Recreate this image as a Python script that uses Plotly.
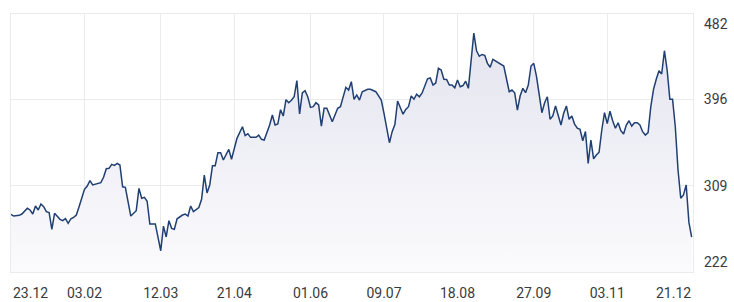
import plotly.graph_objects as go

# trading-day index since 23.12 and closing value
days = [0, 1, 3, 4, 6, 7, 8, 9, 10, 11, 12, 13, 14, 15, 16, 17, 18, 19, 20, 21, 22, 23, 24, 25, 26, 27, 28, 29, 30, 31,
        33, 34, 35, 36, 37, 38, 39, 40, 41, 42, 44, 46, 47, 48, 49, 50, 51, 53, 55, 56, 57, 58, 59, 60, 61, 63, 64, 65, 66, 67,
        69, 70, 71, 72, 73, 74, 75, 76, 77, 78, 80, 81, 83, 85, 86, 87, 88, 90, 91, 92, 93, 95, 96, 97, 98, 99, 100, 101, 102, 103,
        104, 105, 106, 107, 108, 109, 110, 111, 112, 113, 114, 115, 116, 118, 120, 121, 123, 124, 125, 126, 127, 128, 129, 131, 132, 134, 136, 137, 138, 139,
        140, 141, 142, 144, 145, 146, 147, 148, 149, 150, 151, 153, 154, 155, 156, 157, 158, 159, 160, 161, 162, 163, 164, 165, 166, 167, 168, 170, 171, 172,
        173, 174, 175, 176, 177, 179, 181, 183, 184, 185, 186, 187, 188, 189, 190, 191, 192, 193, 195, 196, 197, 198, 199, 200, 201, 202, 203, 204, 205, 206,
        207, 208, 209, 210, 211, 212, 213, 214, 215, 216, 217, 218, 219, 220, 221, 222, 223, 224, 225, 226, 227, 228, 229, 230, 231, 232, 233, 234, 235, 236,
        237, 238, 239, 240, 241, 242, 243, 244, 245, 246, 247, 248, 249, 250]
values = [280.1, 278.4, 279.1, 280.4, 286.2, 284.5, 280.4, 288.5, 284.5, 290.5, 287.8, 282.8, 281.8, 265.0, 281.1, 278.4, 275.1, 273.7, 275.7, 271.1, 275.7, 277.1, 279.4, 287.8, 296.3, 305.3, 308.6, 314.0, 309.7, 310.7,
          312.0, 317.4, 326.1, 326.5, 330.5, 329.5, 331.5, 329.8, 307.9, 307.3, 278.4, 283.8, 306.3, 296.3, 297.3, 293.3, 270.4, 270.4, 243.4, 268.3, 257.3, 273.7, 266.0, 265.0, 275.6, 279.4, 280.4, 278.4, 288.5, 282.8,
          286.9, 295.3, 319.7, 301.7, 309.7, 329.1, 329.1, 342.2, 342.2, 334.9, 345.6, 335.6, 356.7, 368.4, 359.5, 361.4, 357.7, 357.7, 360.0, 355.7, 355.0, 370.1, 380.2, 370.1, 371.1, 385.5, 379.2, 395.6, 392.6, 395.0,
          398.6, 414.8, 381.2, 402.4, 404.7, 398.6, 387.9, 388.6, 392.6, 390.3, 369.1, 387.0, 387.0, 373.5, 387.0, 388.6, 408.1, 405.4, 413.8, 396.0, 400.4, 395.3, 403.7, 406.1, 406.1, 403.7, 395.3, 381.9, 368.4, 352.3,
          363.4, 370.5, 394.3, 381.0, 385.8, 388.6, 399.5, 396.1, 401.2, 398.6, 402.4, 416.7, 417.5, 410.4, 412.5, 427.3, 425.6, 416.3, 416.0, 410.4, 410.4, 407.6, 415.5, 408.7, 409.9, 414.3, 407.1, 462.8, 444.9, 439.4,
          441.2, 440.4, 432.3, 428.3, 436.3, 432.9, 429.6, 403.7, 405.4, 402.6, 385.2, 399.3, 407.1, 402.7, 410.4, 429.6, 432.3, 419.5, 382.5, 392.6, 398.6, 375.9, 379.2, 389.3, 379.2, 370.1, 381.9, 389.3, 375.9, 379.2,
          371.1, 366.9, 365.8, 354.3, 363.6, 331.5, 355.0, 336.1, 339.9, 342.7, 365.1, 382.5, 371.5, 384.0, 374.4, 366.9, 372.4, 364.4, 361.0, 370.1, 374.4, 369.1, 372.4, 372.4, 370.1, 363.4, 360.0, 362.4, 388.6, 406.1,
          416.2, 424.9, 421.5, 445.0, 425.6, 396.0, 396.0, 368.4, 324.8, 296.3, 299.6, 309.7, 272.0, 257.1]

x_tick_days = [27, 55, 82, 110, 137, 164, 192, 219]
x_tick_labels = ["03.02", "12.03", "21.04", "01.06", "09.07", "18.08", "27.09", "03.11"]
first_label, last_label = "23.12", "21.12"
y_ticks = [222, 309, 396, 482]
y_labels = ["222", "309", "396", "482"]

X_MAX = 250.5
font = dict(family="Roboto", size=14, color="#3a3a3a")
grid = "#ebebeb"

fig = go.Figure()
fig.add_trace(go.Scatter(
    x=days, y=values, mode="lines",
    line=dict(color="#203f72", width=1.5),
    fill="tozeroy",
    fillgradient=dict(type="vertical", start=222, stop=470,
                      colorscale=[[0, "#fbfbfd"], [1, "#e3e3ef"]]),
    hoverinfo="skip",
))

fig.update_layout(
    width=734, height=302,
    margin=dict(l=11, r=41, t=14, b=30),
    paper_bgcolor="white", plot_bgcolor="white",
    showlegend=False,
    font=font,
)
fig.update_xaxes(
    range=[0, X_MAX], tickmode="array", tickvals=x_tick_days, ticktext=x_tick_labels,
    showgrid=True, gridcolor=grid, gridwidth=1, zeroline=False,
    showline=True, linecolor=grid, mirror=True,
    ticks="outside", ticklen=8, tickcolor="rgba(0,0,0,0)",
    tickfont=font, fixedrange=True, automargin=False,
)
fig.update_yaxes(
    range=[222, 482], side="right", tickmode="array", tickvals=y_ticks,
    ticktext=["", y_labels[1], y_labels[2], ""],
    showgrid=True, gridcolor=grid, gridwidth=1, zeroline=False,
    showline=True, linecolor=grid, mirror=True,
    ticks="outside", ticklen=7, tickcolor="rgba(0,0,0,0)",
    tickfont=font, fixedrange=True, automargin=False,
)

# edge labels kept inside the frame
fig.add_annotation(x=0, y=0, xref="x", yref="paper", text=first_label, showarrow=False,
                   xanchor="left", yanchor="top", yshift=-11, font=font)
fig.add_annotation(x=X_MAX, y=0, xref="x", yref="paper", text=last_label, showarrow=False,
                   xanchor="right", yanchor="top", yshift=-11, font=font)
fig.add_annotation(x=1, y=y_ticks[3], xref="paper", yref="y", text=y_labels[3], showarrow=False,
                   xanchor="left", yanchor="top", xshift=9, font=font)
fig.add_annotation(x=1, y=y_ticks[0], xref="paper", yref="y", text=y_labels[0], showarrow=False,
                   xanchor="left", yanchor="bottom", xshift=9, font=font)

fig.write_html("out.html", config={"displayModeBar": False})
